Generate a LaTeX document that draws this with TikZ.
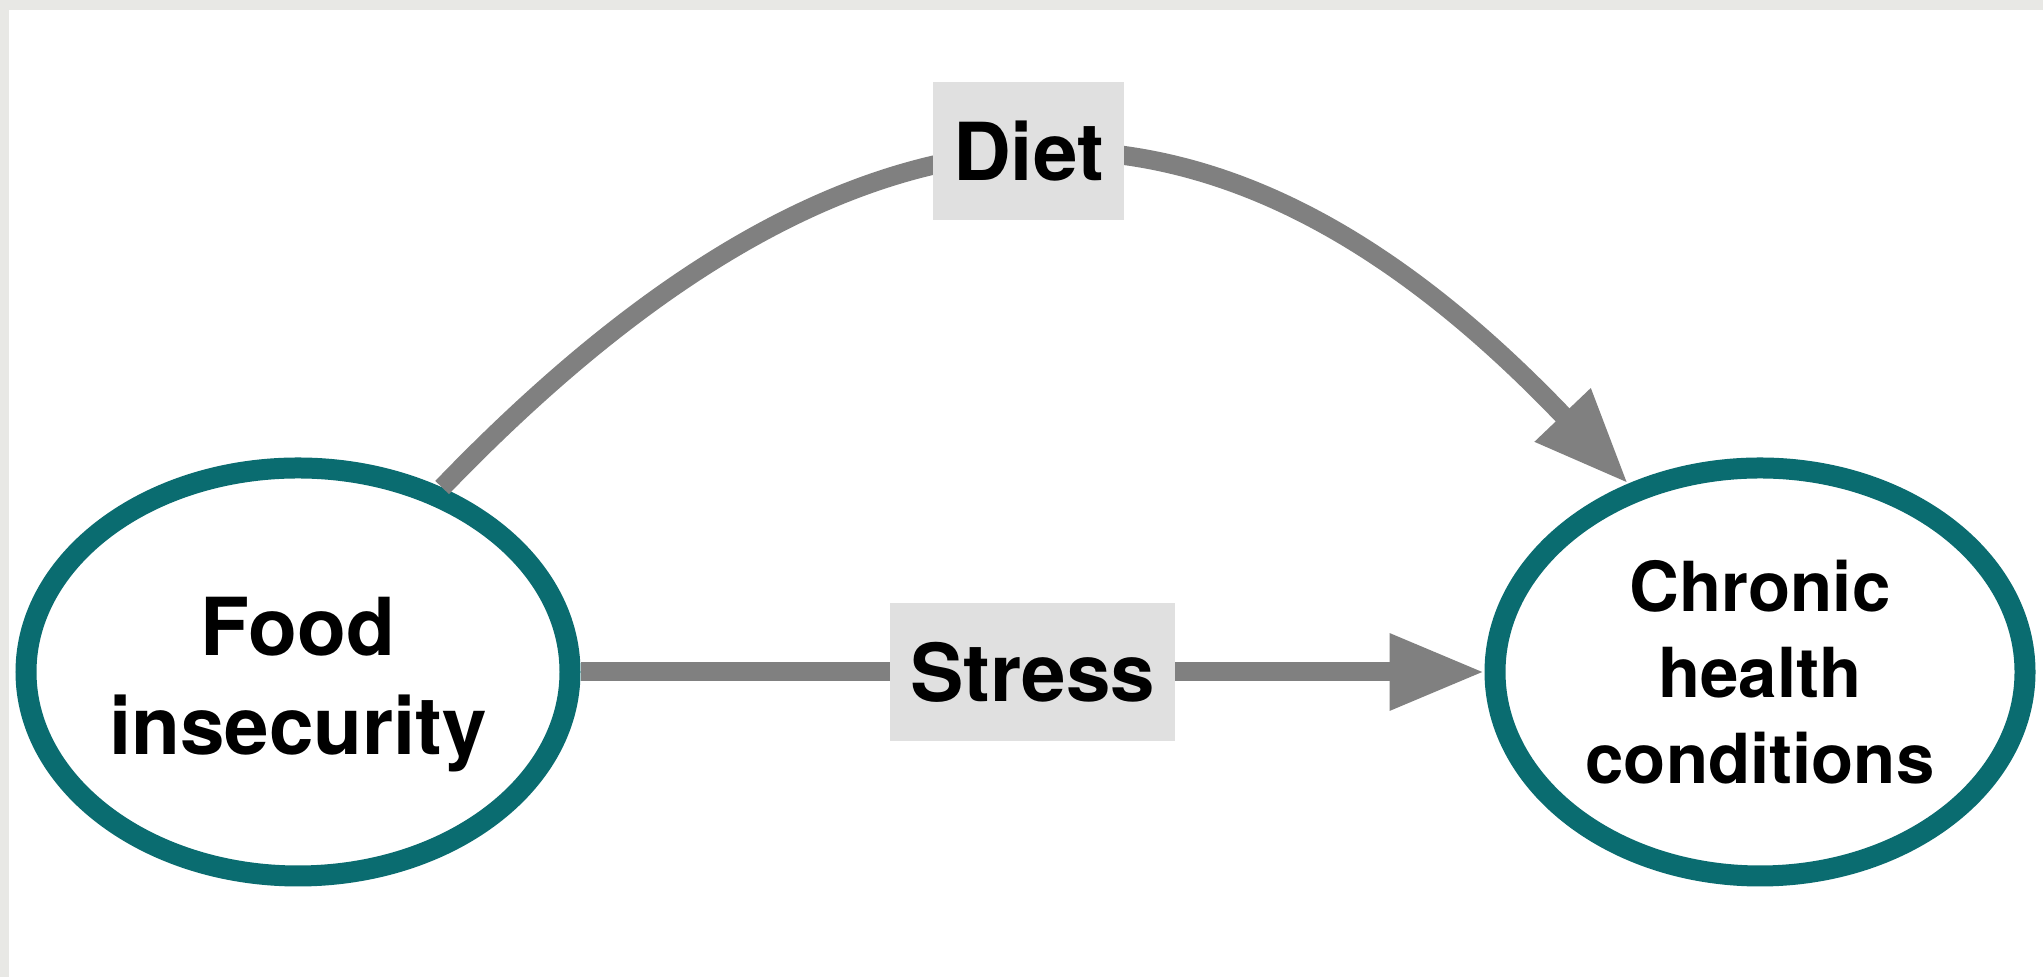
\documentclass[tikz,border=0pt]{standalone}
\usepackage{fontspec}
\setmainfont{TeX Gyre Heros}
\usepackage{tikz}
\usetikzlibrary{arrows.meta}
\usetikzlibrary{shapes}

\definecolor{tealring}{RGB}{10,108,112}
\definecolor{arrowgray}{RGB}{128,128,128}
\definecolor{boxgray}{RGB}{224,224,224}
\definecolor{edgegray}{RGB}{232,232,229}

\begin{document}
\begin{tikzpicture}[x=0.5pt, y=0.5pt,
        ring_style/.style={ellipse,draw=tealring,line width=10.5pt,fill=white,inner sep=0pt,align=center},
        food_font/.style={font=\fontsize{40}{49.5}\selectfont\bfseries},
        health_font/.style={font=\fontsize{34.5}{43}\selectfont\bfseries},
        box_style/.style={rectangle,fill=boxgray,inner xsep=10pt,minimum height=69pt,font=\fontsize{40}{48}\selectfont\bfseries},
        edge_style/.style={draw=arrowgray,line width=9.5pt,-{Triangle[length=47.5pt,width=36pt]}}]

        \useasboundingbox (0,0) rectangle (2043,977);
        \fill [edgegray] (0,0) rectangle (2043,977);
        \fill [white] (9,0) rectangle (2043,967);

        \node [ring_style,food_font,minimum width=272pt,minimum height=204pt,text height=85pt,text depth=2pt](food) at (298,305) {Food\\insecurity};

        \node [ring_style,health_font,minimum width=265pt,minimum height=204pt](chronic) at (1760,305) {Chronic\\health\\conditions};

        \draw [edge_style] (food) -- node[box_style]{Stress} (chronic);

        \draw [edge_style] (food.52) .. controls (897,962) and (1248,892) .. node[box_style,pos=0.47,yshift=4pt]{Diet} (chronic.125);

\end{tikzpicture}
\end{document}
